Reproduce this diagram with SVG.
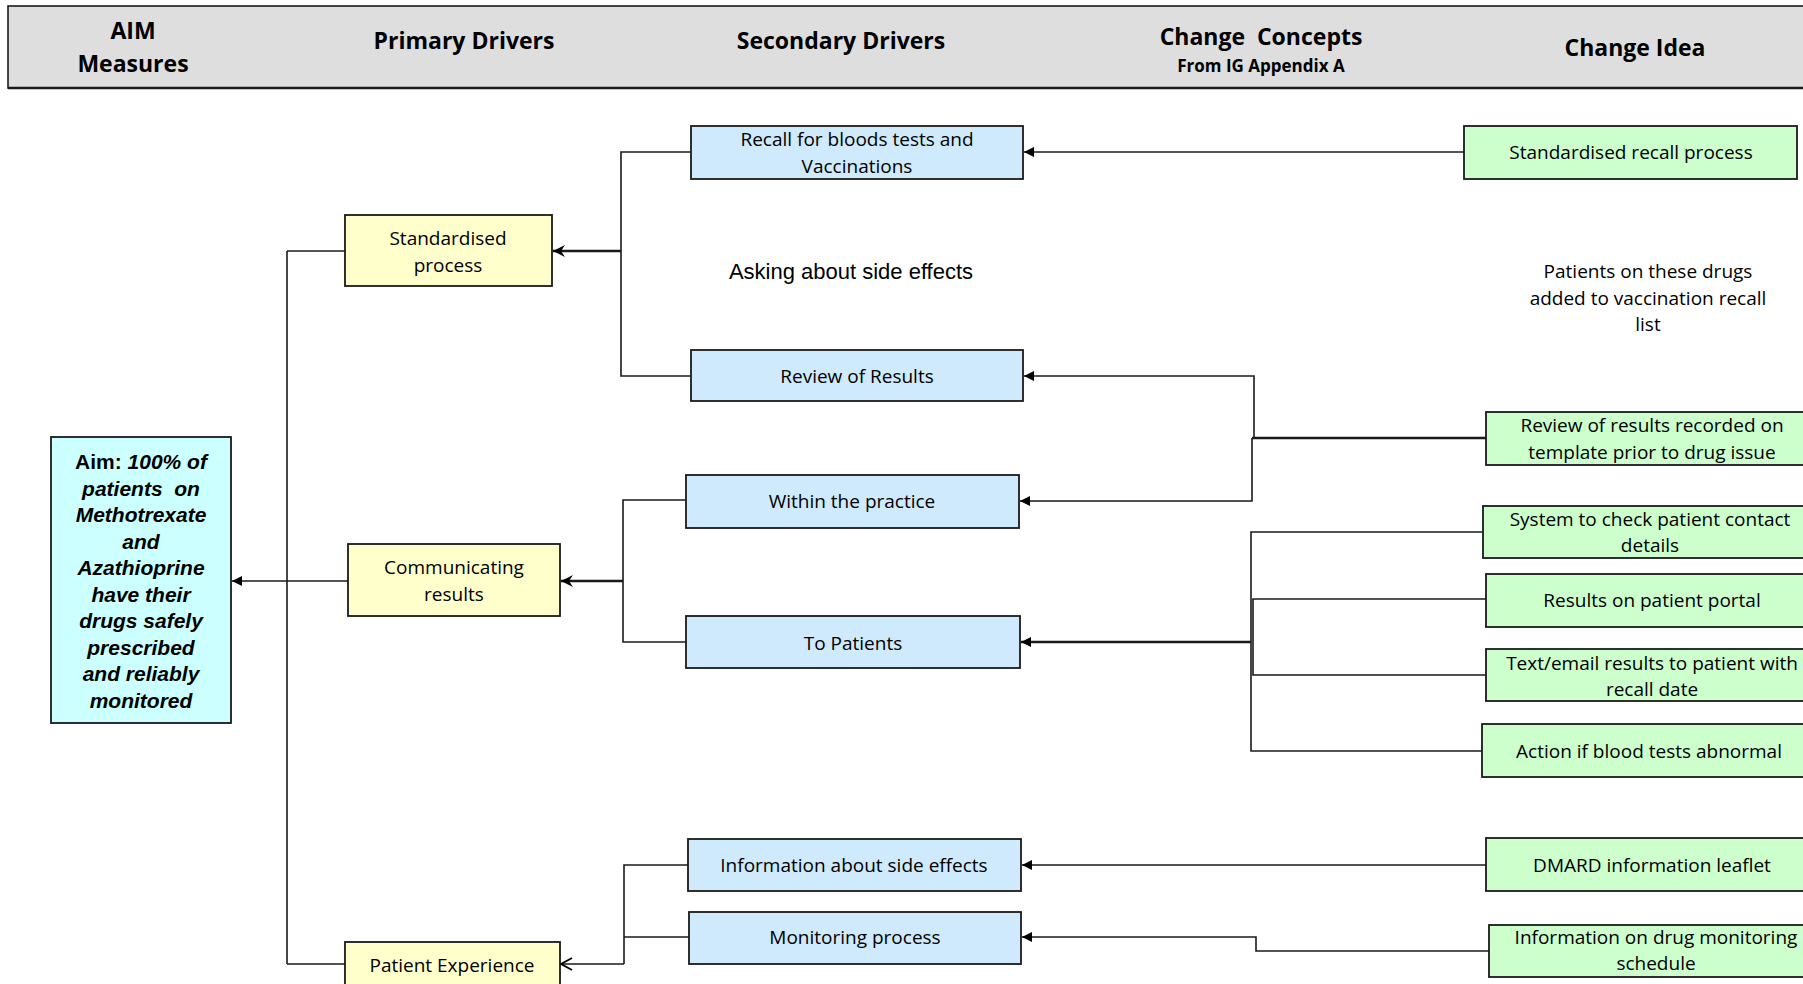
<svg xmlns="http://www.w3.org/2000/svg" width="1803" height="984" viewBox="0 0 1803 984">
<style>
.hd{font-family:"Open Sans","Liberation Sans",sans-serif;font-weight:bold;font-size:23px;fill:#000;text-anchor:middle}
.hs{font-family:"Open Sans","Liberation Sans",sans-serif;font-weight:bold;font-size:17px;fill:#000;text-anchor:middle}
.t{font-family:"Open Sans","Liberation Sans",sans-serif;font-size:19px;fill:#000;text-anchor:middle;dominant-baseline:central}
.aim{font-family:"Liberation Sans",Arial,sans-serif;font-size:21px;font-weight:bold;font-style:italic;fill:#000;text-anchor:middle;dominant-baseline:central}
.free{font-family:"Liberation Sans",Arial,sans-serif;font-size:22px;fill:#000;text-anchor:middle;dominant-baseline:central}
.yb{fill:#ffffcc;stroke:#1a1a1a;stroke-width:1.8}
.bb{fill:#cfeafc;stroke:#1a1a1a;stroke-width:1.8}
.gb{fill:#ccffcc;stroke:#1a1a1a;stroke-width:1.8}
.ab{fill:#ccffff;stroke:#1a1a1a;stroke-width:1.8}
.c{fill:none;stroke:#1a1a1a;stroke-width:1.6}
.ct{fill:none;stroke:#1a1a1a;stroke-width:2.6}
</style>
<defs>
<marker id="fa" markerUnits="userSpaceOnUse" markerWidth="12" markerHeight="12" refX="10" refY="5" orient="auto"><path d="M0,0 L10,5 L0,10 z" fill="#000"/></marker>
<marker id="st" markerUnits="userSpaceOnUse" markerWidth="14" markerHeight="14" refX="12" refY="6" orient="auto"><path d="M0,0 L12,6 L0,12 L4,6 z" fill="#000"/></marker>
<marker id="op" markerUnits="userSpaceOnUse" markerWidth="14" markerHeight="16" refX="12" refY="7" orient="auto"><path d="M1,1 L12,7 L1,13" fill="none" stroke="#000" stroke-width="1.8"/></marker>
</defs>
<rect width="1803" height="984" fill="#fff"/>
<g id="header">
<rect x="8" y="6" width="1810" height="82" fill="#dedede" stroke="#1a1a1a" stroke-width="1.6"/>
<line x1="8" y1="88" x2="1803" y2="88" stroke="#1a1a1a" stroke-width="2.5"/>
<text class="hd" x="133" y="39">AIM</text>
<text class="hd" x="133" y="72">Measures</text>
<text class="hd" x="464" y="49">Primary Drivers</text>
<text class="hd" x="841" y="49">Secondary Drivers</text>
<text class="hd" x="1261" y="45" xml:space="preserve">Change  Concepts</text>
<text class="hs" x="1261" y="72">From IG Appendix A</text>
<text class="hd" x="1635" y="56">Change Idea</text>
</g>
<g id="connectors">
<path class="c" d="M287,251 V964"/>
<path class="c" d="M345,251 H287"/>
<path class="c" d="M345,964 H287"/>
<path class="c" d="M348,581 H232" marker-end="url(#fa)"/>
<path class="c" d="M691,152 H621 V376 H691"/>
<path class="ct" d="M621,251 H553" marker-end="url(#st)"/>
<path class="c" d="M686,500 H623 V642 H686"/>
<path class="ct" d="M623,581 H561" marker-end="url(#st)"/>
<path class="c" d="M688,865 H624 V964"/>
<path class="c" d="M689,937 H624"/>
<path class="c" d="M624,964 H561" marker-end="url(#op)"/>
<path class="c" d="M1464,152 H1024" marker-end="url(#fa)"/>
<path class="ct" d="M1486,438 H1252"/>
<path class="c" d="M1254,438 V376 H1024" marker-end="url(#fa)"/>
<path class="c" d="M1252,438 V501 H1020" marker-end="url(#fa)"/>
<path class="c" d="M1483,532 H1251 V751 H1482"/>
<path class="c" d="M1486,599 H1253 V675 H1486"/>
<path class="ct" d="M1251,642 H1021" marker-end="url(#fa)"/>
<path class="c" d="M1486,865 H1022" marker-end="url(#fa)"/>
<path class="c" d="M1489,951 H1256 V937 H1022" marker-end="url(#fa)"/>
</g>
<g id="aim">
<rect class="ab" x="51" y="437" width="180" height="286"/>
<text class="aim" x="141" y="461"><tspan font-style="normal">Aim: </tspan>100% of</text>
<text class="aim" x="141" y="488" xml:space="preserve">patients  on</text>
<text class="aim" x="141" y="514">Methotrexate</text>
<text class="aim" x="141" y="541">and</text>
<text class="aim" x="141" y="567">Azathioprine</text>
<text class="aim" x="141" y="594">have their</text>
<text class="aim" x="141" y="620">drugs safely</text>
<text class="aim" x="141" y="647">prescribed</text>
<text class="aim" x="141" y="673">and reliably</text>
<text class="aim" x="141" y="700">monitored</text>
</g>
<g id="p-standardised">
<rect class="yb" x="345" y="215" width="207" height="71"/>
<text class="t" x="448" y="238">Standardised</text>
<text class="t" x="448" y="265">process</text>
</g>
<g id="p-communicating">
<rect class="yb" x="348" y="544" width="212" height="72"/>
<text class="t" x="454" y="567">Communicating</text>
<text class="t" x="454" y="594">results</text>
</g>
<g id="p-experience">
<rect class="yb" x="345" y="942" width="215" height="60"/>
<text class="t" x="452" y="965">Patient Experience</text>
</g>
<g id="s-recall">
<rect class="bb" x="691" y="126" width="332" height="53"/>
<text class="t" x="857" y="139">Recall for bloods tests and</text>
<text class="t" x="857" y="166">Vaccinations</text>
</g>
<g id="s-review">
<rect class="bb" x="691" y="350" width="332" height="51"/>
<text class="t" x="857" y="376">Review of Results</text>
</g>
<g id="s-within">
<rect class="bb" x="686" y="475" width="333" height="53"/>
<text class="t" x="852" y="501">Within the practice</text>
</g>
<g id="s-topatients">
<rect class="bb" x="686" y="616" width="334" height="52"/>
<text class="t" x="853" y="643">To Patients</text>
</g>
<g id="s-info">
<rect class="bb" x="688" y="839" width="333" height="52"/>
<text class="t" x="854" y="865">Information about side effects</text>
</g>
<g id="s-monitoring">
<rect class="bb" x="689" y="912" width="332" height="52"/>
<text class="t" x="855" y="937">Monitoring process</text>
</g>
<g id="free-asking">
<text class="free" x="851" y="271">Asking about side effects</text>
</g>
<g id="free-patients">
<text class="t" x="1648" y="271">Patients on these drugs</text>
<text class="t" x="1648" y="298">added to vaccination recall</text>
<text class="t" x="1648" y="324">list</text>
</g>
<g id="c-recall">
<rect class="gb" x="1464" y="126" width="333" height="53"/>
<text class="t" x="1631" y="152">Standardised recall process</text>
</g>
<g id="c-template">
<rect class="gb" x="1486" y="412" width="330" height="53"/>
<text class="t" x="1652" y="425">Review of results recorded on</text>
<text class="t" x="1652" y="452">template prior to drug issue</text>
</g>
<g id="c-system">
<rect class="gb" x="1483" y="506" width="330" height="52"/>
<text class="t" x="1650" y="519">System to check patient contact</text>
<text class="t" x="1650" y="545">details</text>
</g>
<g id="c-portal">
<rect class="gb" x="1486" y="574" width="330" height="53"/>
<text class="t" x="1652" y="600">Results on patient portal</text>
</g>
<g id="c-text">
<rect class="gb" x="1486" y="649" width="330" height="52"/>
<text class="t" x="1652" y="663">Text/email results to patient with</text>
<text class="t" x="1652" y="689">recall date</text>
</g>
<g id="c-action">
<rect class="gb" x="1482" y="724" width="330" height="53"/>
<text class="t" x="1649" y="751">Action if blood tests abnormal</text>
</g>
<g id="c-dmard">
<rect class="gb" x="1486" y="838" width="330" height="53"/>
<text class="t" x="1652" y="865">DMARD information leaflet</text>
</g>
<g id="c-schedule">
<rect class="gb" x="1489" y="925" width="330" height="52"/>
<text class="t" x="1656" y="937">Information on drug monitoring</text>
<text class="t" x="1656" y="963">schedule</text>
</g>
</svg>
